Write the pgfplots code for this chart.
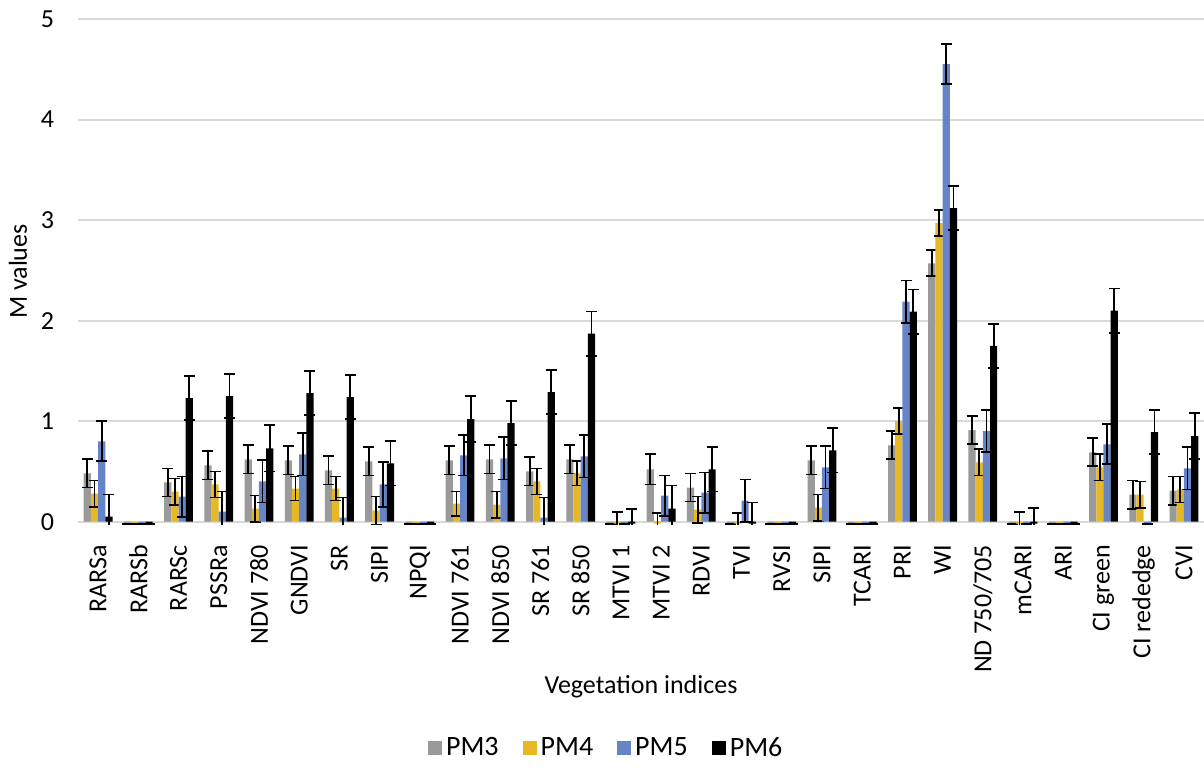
\documentclass[border=0pt]{standalone}
\usepackage{fontspec}
\setmainfont{Carlito}
\usepackage{pgfplots}
\usepackage{pgfplotstable}
\pgfplotsset{compat=1.18}
\definecolor{pmgray}{RGB}{154,154,154}
\definecolor{pmyellow}{RGB}{230,184,38}
\definecolor{pmblue}{RGB}{101,133,200}
\definecolor{gridgray}{RGB}{217,217,217}

\pgfplotstableread{
x g ge y ye b be k ke
0 0.48 0.14 0.28 0.13 0.80 0.20 0.05 0.22
1 -0.02 0 -0.02 0 -0.02 0 -0.02 0
2 0.39 0.14 0.30 0.13 0.25 0.20 1.23 0.22
3 0.56 0.14 0.37 0.13 0.10 0.20 1.25 0.22
4 0.62 0.14 0.13 0.13 0.40 0.21 0.73 0.23
5 0.61 0.14 0.33 0.12 0.67 0.21 1.28 0.22
6 0.51 0.14 0.33 0.12 0.04 0.20 1.24 0.22
7 0.60 0.14 0.11 0.14 0.37 0.22 0.58 0.22
8 -0.02 0 -0.02 0 -0.02 0 -0.02 0
9 0.61 0.14 0.18 0.12 0.66 0.20 1.02 0.23
10 0.62 0.14 0.17 0.13 0.63 0.21 0.98 0.22
11 0.50 0.14 0.40 0.13 0.04 0.20 1.29 0.22
12 0.62 0.14 0.48 0.12 0.65 0.21 1.87 0.22
13 -0.02 0 -0.02 0.12 -0.02 0 -0.02 0.15
14 0.52 0.15 -0.02 0.11 0.26 0.20 0.13 0.23
15 0.34 0.14 0.12 0.13 0.29 0.20 0.52 0.22
16 -0.02 0 -0.02 0.11 0.21 0.21 -0.02 0.21
17 -0.02 0 -0.02 0 -0.02 0 -0.02 0
18 0.61 0.14 0.14 0.13 0.54 0.21 0.71 0.22
19 -0.02 0 -0.02 0 -0.02 0 -0.02 0
20 0.76 0.14 1.00 0.13 2.19 0.21 2.09 0.22
21 2.57 0.13 2.97 0.13 4.55 0.20 3.12 0.22
22 0.91 0.14 0.59 0.13 0.90 0.21 1.75 0.22
23 -0.02 0 -0.02 0.12 -0.02 0 -0.02 0.16
24 -0.02 0 -0.02 0 -0.02 0 -0.02 0
25 0.69 0.14 0.54 0.13 0.77 0.20 2.10 0.22
26 0.27 0.14 0.27 0.13 -0.02 0 0.89 0.22
27 0.31 0.14 0.32 0.13 0.53 0.21 0.85 0.23
}\datatable

\begin{document}
\begin{tikzpicture}[font=\fontsize{13}{15}\selectfont]
\begin{axis}[
  scale only axis,
  width=563pt, height=252.6pt,
  anchor=south west, at={(0,0)},
  xmin=-0.5, xmax=27.5,
  ymin=-0.025, ymax=5,
  ybar=0pt, bar width=3.6pt,
  ytick={0,1,2,3,4,5},
  xtick={0,...,27},
  xticklabels={RARSa,RARSb,RARSc,PSSRa,NDVI 780,GNDVI,SR,SIPI,NPQI,NDVI 761,NDVI 850,SR 761,SR 850,MTVI 1,MTVI 2,RDVI,TVI,RVSI,SIPI,TCARI,PRI,WI,ND 750/705,mCARI,ARI,CI green,CI rededge,CVI},
  xticklabel style={rotate=90, anchor=east, inner sep=0pt, xshift=-6pt},
  yticklabel style={xshift=-8.5pt},
  /pgf/number format/assume math mode=true,
  ymajorgrids, grid style={gridgray, line width=1pt},
  axis line style={draw=none},
  major tick style={draw=none},
  xlabel={Vegetation indices},
  xlabel style={at={(axis description cs:0.5,0)}, anchor=center, yshift=-81pt},
  ylabel={M values},
  ylabel style={at={(axis description cs:0,0.5)}, anchor=center, yshift=30pt},
  legend style={at={(axis description cs:0.47,0)}, anchor=center, yshift=-112pt, draw=none, font=\fontsize{14}{16}\selectfont, legend columns=4, /tikz/every even column/.append style={column sep=10pt}},
  legend image code/.code={\fill[#1] (0pt,-3.5pt) rectangle (7pt,3.5pt);},
  error bars/y dir=both, error bars/y explicit,
  error bars/error bar style={line width=0.9pt, black},
  error bars/error mark options={rotate=90, mark size=2.75pt, line width=0.9pt, black},
]
\addplot[fill=pmgray, draw=none] table[x=x, y=g, y error=ge] {\datatable};
\addlegendentry{PM3}
\addplot[fill=pmyellow, draw=none] table[x=x, y=y, y error=ye] {\datatable};
\addlegendentry{PM4}
\addplot[fill=pmblue, draw=none] table[x=x, y=b, y error=be] {\datatable};
\addlegendentry{PM5}
\addplot[fill=black, draw=none] table[x=x, y=k, y error=ke] {\datatable};
\addlegendentry{PM6}
\end{axis}
\pgfresetboundingbox
\path[use as bounding box] (-39pt,-121.4pt) rectangle (563pt,262.1pt);
\end{tikzpicture}
\end{document}
